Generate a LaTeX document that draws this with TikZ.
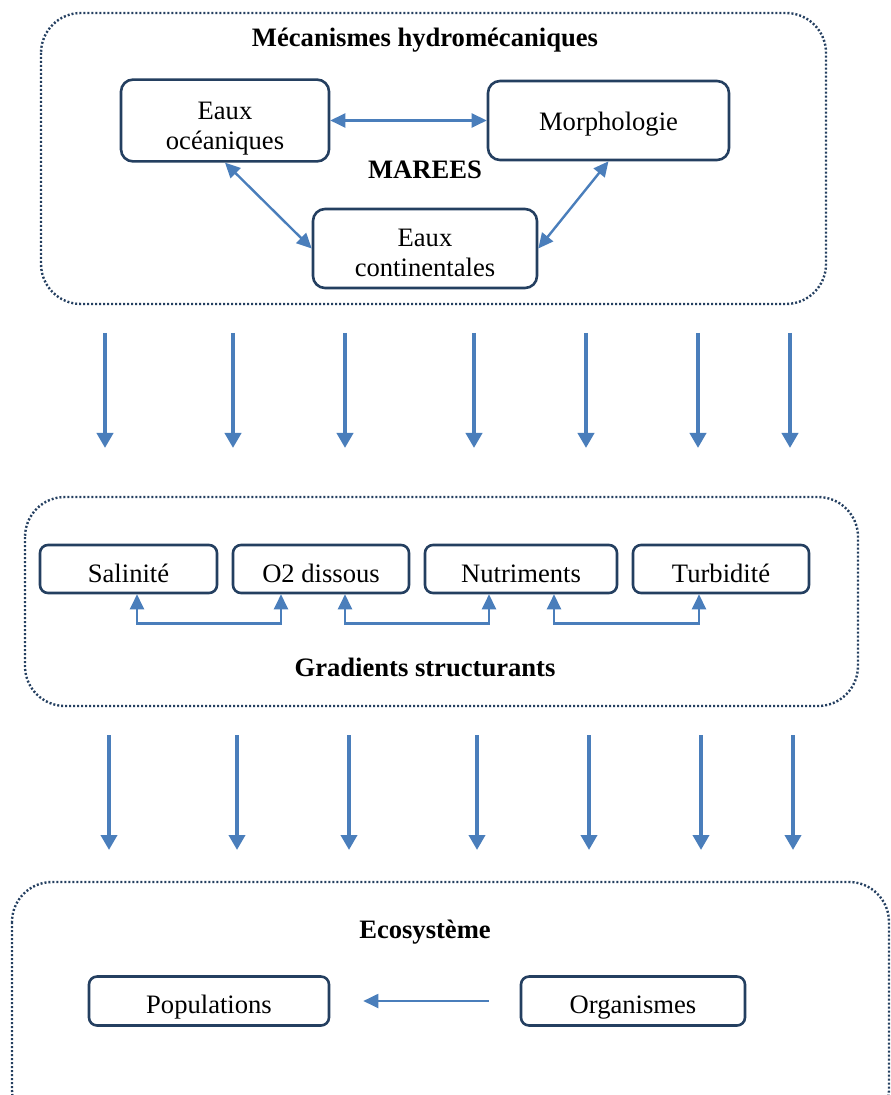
\documentclass[tikz,border=0pt]{standalone}
\usepackage{xcolor}
\usepackage{fontspec}
\setmainfont{Liberation Serif}
\usetikzlibrary{arrows.meta}
\definecolor{boxblue}{HTML}{243F60}
\definecolor{linkblue}{HTML}{4A7EBB}

\begin{document}
\begin{tikzpicture}[
    x=0.5pt, y=-0.5pt,
    every node/.style={font=\fontsize{13.3pt}{15pt}\selectfont},
    frame/.style={draw=boxblue, line width=1.2pt, dash pattern=on 1pt off 1pt, rounded corners=20pt},
    box/.style={draw=boxblue, line width=1.3pt, rounded corners=6pt, align=center, minimum height=39.5pt},
    smallbox/.style={draw=boxblue, line width=1.3pt, rounded corners=4pt, minimum height=24pt, text height=13.2pt, text depth=0pt},
    titre/.style={font=\fontsize{13.3pt}{15pt}\selectfont\bfseries},
    link/.style={draw=linkblue, line width=1.2pt, arrows={-Triangle[width=7pt,length=7.5pt]}},
    biglink/.style={link, arrows={Triangle[width=7pt,length=7.5pt]-Triangle[width=7pt,length=7.5pt]}},
    fatlink/.style={link, line width=1.9pt, arrows={-Triangle[width=8pt,length=7.5pt]}}
]
\path[use as bounding box, clip] (0,0) rectangle (890,1095);

% les trois cadres
\draw[frame] (41,13) rectangle (826,304);
\draw[frame] (25,497) rectangle (858,706);
\draw[frame] (12,882) rectangle (889,1130);

% mecanismes
\node[titre] (meca) at (425,40) {Mécanismes hydromécaniques};
\node[titre] (marees) at (425,170) {MAREES};
\node[box, minimum width=104pt] (eauxoc) at (225,120.5) {\rule{0pt}{16.4pt}Eaux\\océaniques};
\node[box, minimum width=120.5pt, text height=13.5pt, text depth=3pt] (morpho) at (608.5,120.5) {Morphologie};
\node[box, minimum width=112pt] (eauxco) at (425,248.5) {\rule{0pt}{13.4pt}Eaux\\continentales};
\draw[biglink] (eauxoc) -- (morpho);
\draw[biglink] (eauxoc.south) -- (eauxco.west);
\draw[biglink] (morpho.south) -- (eauxco.east);

% fleches vers les gradients
\foreach \x [count=\i] in {105,233,345,474,586,698,790} {
    \coordinate (ha\i) at (\x,333);
    \coordinate (hb\i) at (\x,448);
    \draw[fatlink] (ha\i) -- (hb\i);
}

% gradients
\node[smallbox, minimum width=88.5pt] (sal) at (128.5,569) {Salinité};
\node[smallbox, minimum width=88pt] (o2) at (321,569) {O2 dissous};
\node[smallbox, minimum width=96pt] (nutri) at (521,569) {Nutriments};
\node[smallbox, minimum width=88pt] (turb) at (721,569) {Turbidité};
\node[titre] (grad) at (425,667) {Gradients structurants};
\draw[biglink] ([xshift=4.25pt]sal.south) -- ++(0,29) -| ([xshift=-20pt]o2.south);
\draw[biglink] ([xshift=12pt]o2.south) -- ++(0,29) -| ([xshift=-16pt]nutri.south);
\draw[biglink] ([xshift=16.5pt]nutri.south) -- ++(0,29) -| ([xshift=-11pt]turb.south);

% fleches vers l'ecosysteme
\foreach \x [count=\i] in {109,237,349,477,589,701,793} {
    \coordinate (ba\i) at (\x,735);
    \coordinate (bb\i) at (\x,850);
    \draw[fatlink] (ba\i) -- (bb\i);
}

% ecosysteme
\node[titre] (eco) at (425,932) {Ecosystème};
\node[smallbox, minimum width=120pt, text height=14.9pt, text depth=2.9pt] (pop) at (209,1001) {Populations};
\node[smallbox, minimum width=112pt, text height=14.9pt, text depth=2.9pt] (org) at (633,1001) {Organismes};
\draw[link, line width=1pt] ([xshift=-15.5pt]org.west) -- ([xshift=16.5pt]pop.east);
\end{tikzpicture}
\end{document}
